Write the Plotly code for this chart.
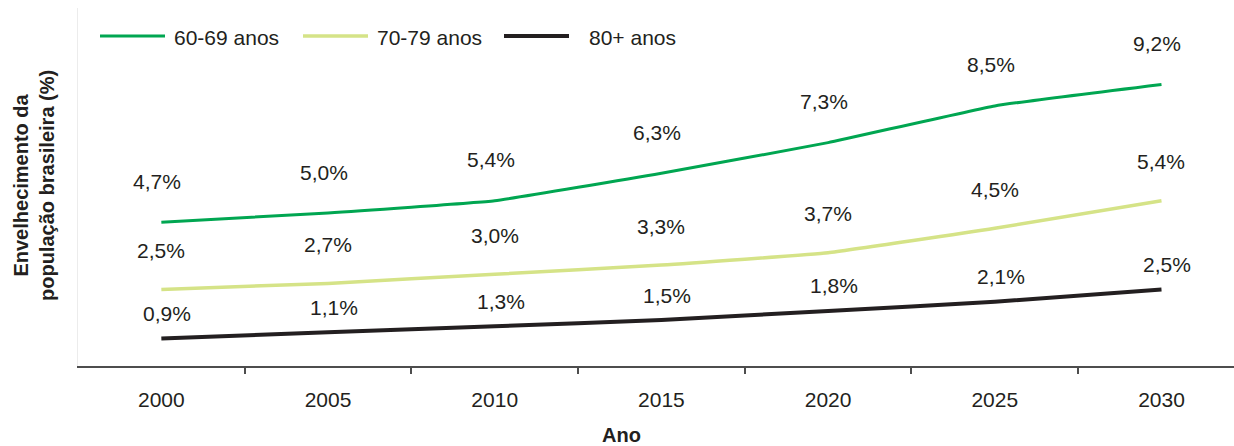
import plotly.graph_objects as go

# ── data ──────────────────────────────────────────────────────────────────────
anos = ["2000", "2005", "2010", "2015", "2020", "2025", "2030"]
faixa_60_69 = [4.7, 5.0, 5.4, 6.3, 7.3, 8.5, 9.2]
faixa_70_79 = [2.5, 2.7, 3.0, 3.3, 3.7, 4.5, 5.4]
faixa_80_mais = [0.9, 1.1, 1.3, 1.5, 1.8, 2.1, 2.5]

# nome, valores, cor, espessura, deslocamento do rótulo (y, x)
series = [
    ("60-69 anos", faixa_60_69, "#00a651", 3, 41, -4),
    ("70-79 anos", faixa_70_79, "#d5e387", 3.5, 39, 0),
    ("80+ anos", faixa_80_mais, "#231f20", 4, 25, 6),
]

FONT = "Liberation Sans, Arial, sans-serif"
TXT = "#231f20"
W, H = 1234, 446
ML, MT, MB = 78, 8, 80
PW, PH = W - ML, H - MT - MB


def px_x(p):
    # pixel -> paper (horizontal)
    return (p - ML) / PW


def px_y(p):
    # pixel -> paper (vertical)
    return (H - MB - p) / PH


fig = go.Figure()

for nome, vals, cor, larg, dy, dx in series:
    fig.add_trace(go.Scatter(
        x=anos, y=vals, name=nome,
        mode="lines",
        line=dict(color=cor, width=larg, shape="spline", smoothing=0.3),
        hoverinfo="skip", showlegend=False,
    ))
    # rótulos de valor acima de cada ponto
    for i, v in enumerate(vals):
        fig.add_annotation(
            x=i, y=v, yshift=dy, xshift=dx,
            text=f"{v:.1f}%".replace(".", ","),
            showarrow=False,
            font=dict(size=21, color=TXT, family=FONT),
        )

# traço vazio só para o eixo auxiliar das marcas ser desenhado
fig.add_trace(go.Scatter(x=[], y=[], xaxis="x2", showlegend=False, hoverinfo="skip"))

# legenda manual (linhas de 65 px como no original)
leg_x = [100, 303, 504]
leg_txt_gap = [7, 7, 18]
for (nome, _, cor, larg, _, _), lx, gap in zip(series, leg_x, leg_txt_gap):
    fig.add_shape(
        type="line", xref="paper", yref="paper",
        x0=px_x(lx), x1=px_x(lx + 65), y0=px_y(36), y1=px_y(36),
        line=dict(color=cor, width=larg),
    )
    fig.add_annotation(
        xref="paper", yref="paper", x=px_x(lx + 65 + gap), y=px_y(37),
        text=nome, showarrow=False, xanchor="left", yanchor="middle",
        font=dict(size=21, color=TXT, family=FONT),
    )

# títulos dos eixos como anotações
fig.add_annotation(
    xref="paper", yref="paper", x=px_x(34), y=px_y(186),
    text="<b>Envelhecimento da<br>população brasileira (%)</b>",
    textangle=-90, showarrow=False, xanchor="center", yanchor="middle",
    font=dict(size=20, color=TXT, family=FONT),
)
fig.add_annotation(
    xref="paper", yref="paper", x=px_x(621), y=px_y(435),
    text="<b>Ano</b>", showarrow=False, xanchor="center", yanchor="middle",
    font=dict(size=20, color=TXT, family=FONT),
)

fig.update_layout(
    width=W, height=H,
    margin=dict(l=ML, r=0, t=MT, b=MB),
    paper_bgcolor="white", plot_bgcolor="white",
    font=dict(family=FONT, size=21, color=TXT),
    showlegend=False,
    xaxis=dict(
        type="category", range=[-0.5, 6.435], automargin=False,
        showline=True, linecolor="#4d4d4d", linewidth=1.5,
        ticks="", ticklabelstandoff=14,
        tickfont=dict(size=21, color=TXT),
        showgrid=False, zeroline=False,
    ),
    # eixo auxiliar só para as marcas entre as categorias
    xaxis2=dict(
        overlaying="x", anchor="y", side="bottom", type="linear",
        range=[-0.5, 6.435], automargin=False,
        tickvals=[0.5, 1.5, 2.5, 3.5, 4.5, 5.5],
        ticks="outside", ticklen=7, tickcolor="#4d4d4d", tickwidth=1.5,
        showticklabels=False, showline=False,
        showgrid=False, zeroline=False,
    ),
    yaxis=dict(
        range=[0, 11.7], automargin=False,
        showline=True, linecolor="#ececec", linewidth=1,
        showticklabels=False, ticks="",
        showgrid=False, zeroline=False,
    ),
)

# sem margem no body para a figura ocupar a janela inteira
fig.write_html(
    "out.html",
    config={"displayModeBar": False},
    post_script="document.body.style.margin='0';document.body.style.overflow='hidden';",
)
